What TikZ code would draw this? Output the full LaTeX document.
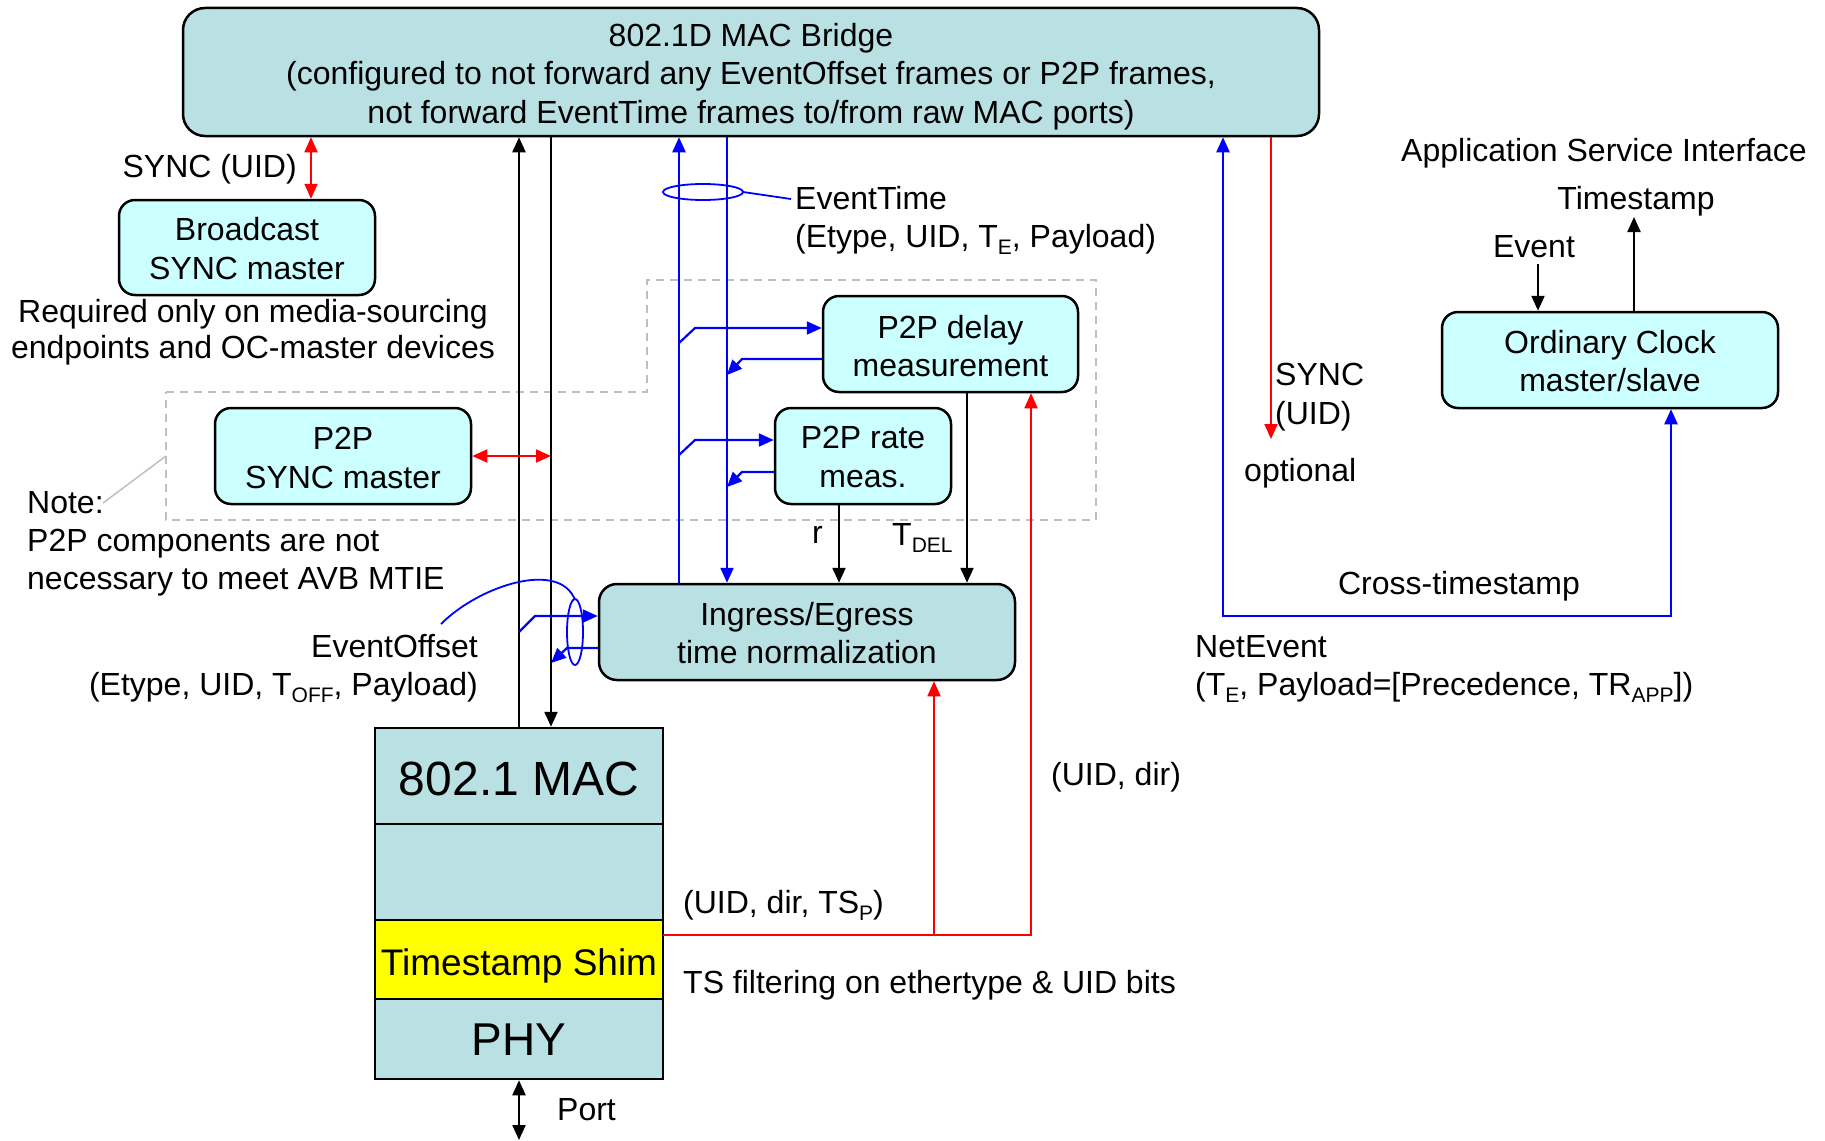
\documentclass[tikz,border=0pt]{standalone}
\usepackage{fontspec}
\setmainfont{Liberation Sans}
\usetikzlibrary{arrows.meta}
\definecolor{bridgefill}{HTML}{B9E0E3}
\definecolor{cyanfill}{HTML}{CCFFFF}
\definecolor{shimyellow}{HTML}{FFFF00}
\definecolor{linkblue}{HTML}{0000FF}
\definecolor{linkred}{HTML}{FF0000}
\definecolor{dashgrey}{HTML}{BFBFBF}
\newcommand\lowsub[1]{\raisebox{-7pt}{\fontsize{21}{21}\selectfont #1}}
\tikzset{
  txt/.style={font=\fontsize{32}{38.5}\selectfont, inner sep=0pt},
  boxlabel/.style={txt, align=center},
  tealbox/.style={draw, line width=2.5pt, rounded corners=22pt, fill=bridgefill, inner sep=0pt},
  cyanbox/.style={draw, line width=2.5pt, rounded corners=16pt, fill=cyanfill, inner sep=0pt},
  stackbox/.style={draw, line width=2.5pt, fill=bridgefill, minimum width=288pt, inner sep=0pt},
  kline/.style={line width=2.2pt, black},
  bline/.style={line width=2.2pt, linkblue},
  bthin/.style={line width=1.8pt, linkblue},
  rline/.style={line width=1.8pt, linkred},
  region/.style={line width=2pt, dashgrey, dash pattern=on 8pt off 6pt},
}
\begin{document}
\begin{tikzpicture}[x=1pt, y=-1pt, >={Triangle[length=15pt,width=13pt]}]
\useasboundingbox (0,0) rectangle (1825,1140);

% optional peer-to-peer components region
\draw[region] (166,392) -- (647,392) -- (647,280) -- (1096,280) -- (1096,520) -- (166,520) -- cycle;
\draw[dashgrey, line width=1.5pt] (103,503) -- (166,456);

% main blocks
\node[tealbox, minimum width=1136pt, minimum height=128pt,
  label={[boxlabel, yshift=-4.5pt]center:802.1D MAC Bridge\\(configured to not forward any EventOffset frames or P2P frames,\\not forward EventTime frames to/from raw MAC ports)}]
  (bridge) at (751,72) {};
\node[cyanbox, minimum width=256pt, minimum height=95pt,
  label={[boxlabel, yshift=-1pt]center:Broadcast\\SYNC master}] (bcast) at (247,247.5) {};
\node[cyanbox, minimum width=256pt, minimum height=96pt,
  label={[boxlabel, yshift=-2pt]center:P2P\\SYNC master}] (p2p) at (343,456) {};
\node[cyanbox, minimum width=255pt, minimum height=96pt,
  label={[boxlabel, yshift=-2pt]center:P2P delay\\measurement}] (delay) at (950.5,344) {};
\node[cyanbox, minimum width=176pt, minimum height=96pt,
  label={[boxlabel, yshift=-1pt]center:P2P rate\\meas.}] (rate) at (863,456) {};
\node[tealbox, rounded corners=18pt, minimum width=416pt, minimum height=96pt,
  label={[boxlabel, yshift=-1pt]center:Ingress/Egress\\time normalization}] (ingress) at (807,632) {};
\node[cyanbox, minimum width=336pt, minimum height=96pt,
  label={[boxlabel, yshift=-1pt]center:Ordinary Clock\\master/slave}] (oc) at (1610,360) {};

% port stack
\node[stackbox, minimum height=96pt,
  label={[inner sep=0pt, font=\fontsize{48}{48}\selectfont, yshift=-2.5pt]center:802.1 MAC}] (mac) at (519,776) {};
\node[stackbox, minimum height=96pt] (macmid) at (519,872) {};
\node[stackbox, minimum height=79pt, fill=shimyellow,
  label={[inner sep=0pt, font=\fontsize{37}{37}\selectfont, yshift=-6pt]center:Timestamp Shim}] (shim) at (519,959.5) {};
\node[stackbox, minimum height=80pt,
  label={[inner sep=0pt, font=\fontsize{46}{46}\selectfont, yshift=-1pt]center:PHY}] (phy) at (519,1039) {};

% column positions
\coordinate (kup) at (519,0);
\coordinate (kdn) at (551,0);
\coordinate (bup) at (679,0);
\coordinate (bdn) at (727,0);
\coordinate (kr) at (839,0);
\coordinate (kd) at (967,0);
\coordinate (rtn) at (934,0);
\coordinate (rdl) at (1031,0);
\coordinate (sx) at (311,0);
\coordinate (bx) at (1223,0);
\coordinate (rx) at (1271,0);
\coordinate (ocx) at (1671,0);
\coordinate (tsout) at (663,935);
\coordinate (portend) at (519,1140);
\coordinate (xbend) at (1223,616);
\coordinate (ocbend) at (1671,616);
\coordinate (optend) at (1271,439);
\coordinate (evtop) at (1538,264);
\coordinate (tstop) at (1634,217);

% frame paths between bridge and port
\draw[kline,->] (mac.north -| kup) -- (bridge.south -| kup);
\draw[kline,->] (bridge.south -| kdn) -- (mac.north -| kdn);
\draw[kline,<->] (phy.south -| kup) -- (portend);
\draw[bline,->] (ingress.north -| bup) -- (bridge.south -| bup);
\draw[bline,->] (bridge.south -| bdn) -- (ingress.north -| bdn);
\draw[kline,->] (rate.south -| kr) -- (ingress.north -| kr);
\draw[kline,->] (delay.south -| kd) -- (ingress.north -| kd);

% taps to and from the measurement blocks
\draw[bline,->] (679,343) -- (695,328) -- (delay.west |- 0,328);
\draw[bline,->] (delay.west |- 0,359) -- (742,359) -- (727,375);
\draw[bline,->] (679,455) -- (695,440) -- (rate.west |- 0,440);
\draw[bline,->] (rate.west |- 0,472) -- (742,472) -- (727,487);
\draw[bline,->] (519,632) -- (535,616) -- (ingress.west |- 0,616);
\draw[bline,->] (ingress.west |- 0,648) -- (567,648) -- (551,663);

% SYNC exchanges
\draw[rline,<->] (bridge.south -| sx) -- (bcast.north -| sx);
\draw[rline,<->] (p2p.east) -- (p2p.east -| kdn);
\draw[rline,->] (bridge.south -| rx) -- (optend);

% timestamp reports from the shim
\draw[rline,->] (tsout) -- (tsout -| rdl) -- (delay.south -| rdl);
\draw[rline,->] (tsout -| rtn) -- (ingress.south -| rtn);

% cross-timestamp to the ordinary clock
\draw[bline,<->] (bridge.south -| bx) -- (xbend) -- (ocbend) -- (oc.south -| ocx);
\draw[kline,->] (evtop) -- (oc.north -| evtop);
\draw[kline,->] (oc.north -| tstop) -- (tstop);

% frame group markers
\draw[bthin] (703,192) ellipse [x radius=40pt, y radius=8pt];
\draw[bthin] (743,192) -- (791,199);
\draw[bthin] (575,632) ellipse [x radius=8pt, y radius=33pt];
\draw[bthin] (441,624) .. controls (480,585) and (560,560) .. (575,600);

% labels
\node[txt, anchor=base east] (lsync) at (297,177) {SYNC (UID)};
\node[txt, anchor=base] (lreq1) at (253,322) {Required only on media-sourcing};
\node[txt, anchor=base] (lreq2) at (253,358) {endpoints and OC-master devices};
\node[txt, anchor=base west] (lnote1) at (27,513) {Note:};
\node[txt, anchor=base west] (lnote2) at (27,551) {P2P components are not};
\node[txt, anchor=base west] (lnote3) at (27,589) {necessary to meet AVB MTIE};
\node[txt, anchor=base west] (let1) at (795,209) {EventTime};
\node[txt, anchor=base west] (let2) at (795,247) {(Etype, UID, T\lowsub{E}, Payload)};
\node[txt, anchor=base east] (leo1) at (478,657) {EventOffset};
\node[txt, anchor=base east] (leo2) at (478,695) {(Etype, UID, T\lowsub{OFF}, Payload)};
\node[txt, anchor=base west] (lr) at (812,543) {r};
\node[txt, anchor=base west] (ltdel) at (892,545) {T\lowsub{DEL}};
\node[txt, anchor=base west] (ltsp) at (683,913) {(UID, dir, TS\lowsub{P})};
\node[txt, anchor=base west] (lfilt) at (683,993) {TS filtering on ethertype \& UID bits};
\node[txt, anchor=base west] (ldir) at (1051,785) {(UID, dir)};
\node[txt, anchor=base west] (lport) at (557,1120) {Port};
\node[txt, anchor=base west] (lsync2a) at (1275,385) {SYNC};
\node[txt, anchor=base west] (lsync2b) at (1275,424) {(UID)};
\node[txt, anchor=base west] (lopt) at (1244,481) {optional};
\node[txt, anchor=base] (levent) at (1534,257) {Event};
\node[txt, anchor=base] (lts) at (1636,209) {Timestamp};
\node[txt, anchor=base] (lasi) at (1604,161) {Application Service Interface};
\node[txt, anchor=base] (lcross) at (1459,594) {Cross-timestamp};
\node[txt, anchor=base west] (lne1) at (1195,657) {NetEvent};
\node[txt, anchor=base west] (lne2) at (1195,695) {(T\lowsub{E}, Payload=[Precedence, TR\lowsub{APP}])};
\end{tikzpicture}
\end{document}
